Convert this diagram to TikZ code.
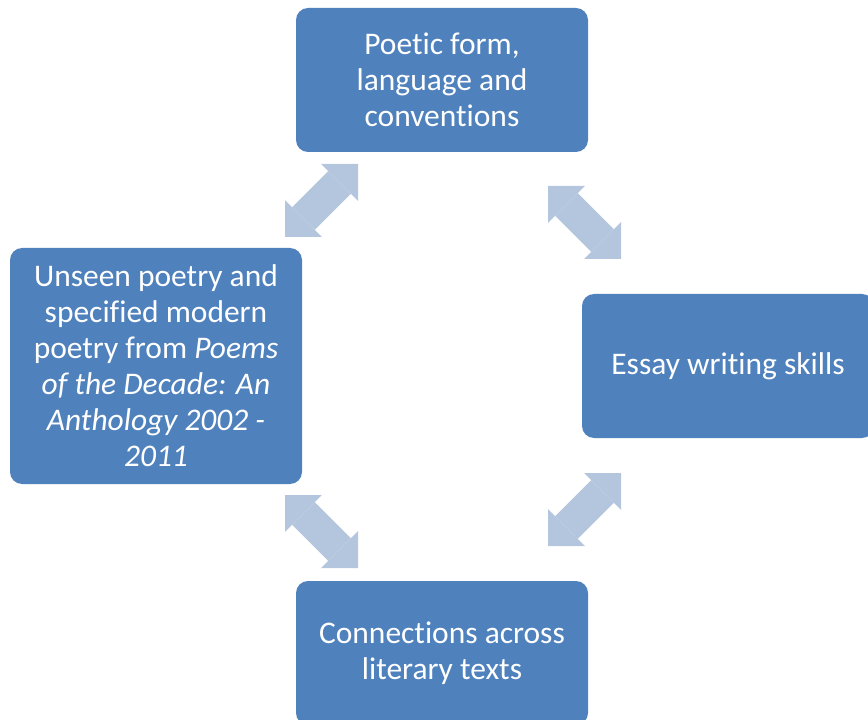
\documentclass[tikz,border=0pt]{standalone}
\usepackage{fontspec}
\setmainfont[Ligatures=NoCommon]{Carlito}
\usetikzlibrary{
  arrows.meta
}
\definecolor{boxblue}{HTML}{4F81BD}
\definecolor{linkblue}{HTML}{B4C5DE}
\tikzset{
  topic/.style={
    rectangle,
    rounded corners=9pt,
    fill=boxblue,
    text=white,
    minimum width=219pt,
    minimum height=108pt,
    inner sep=3pt,
    align=center,
    font=\fontsize{23.6}{27}\selectfont
  },
  link/.style={
    draw=linkblue,
    line width=24pt,
    {Triangle[width=39pt,length=19.5pt,line width=0pt]}-{Triangle[width=39pt,length=19.5pt,line width=0pt]}
  }
}
\begin{document}
\begin{tikzpicture}[x=0.75pt,y=-0.75pt]
\useasboundingbox (0,0) rectangle (868,720);
\node[topic] (form) at (442,80) {Poetic form,\\language and\\conventions};
\node[topic] (essay) at (728,366) {Essay writing skills};
\node[topic] (links) at (442,653) {Connections across\\literary texts};
\node[topic,minimum height=177pt] (unseen) at (156,366)
  {Unseen poetry and\\specified modern\\poetry from \textit{Poems}\\
   \textit{of the Decade: An}\\\textit{Anthology 2002 -}\\\textit{2011}};
\coordinate (a1) at (358,164);
\coordinate (b1) at (285,237);
\coordinate (a2) at (548,186);
\coordinate (b2) at (621,259);
\coordinate (a3) at (621,473);
\coordinate (b3) at (548,546);
\coordinate (a4) at (285,495);
\coordinate (b4) at (358,568);
\foreach \k in {1,...,4} {
  \draw[link] (a\k) -- (b\k);
}
\end{tikzpicture}
\end{document}
